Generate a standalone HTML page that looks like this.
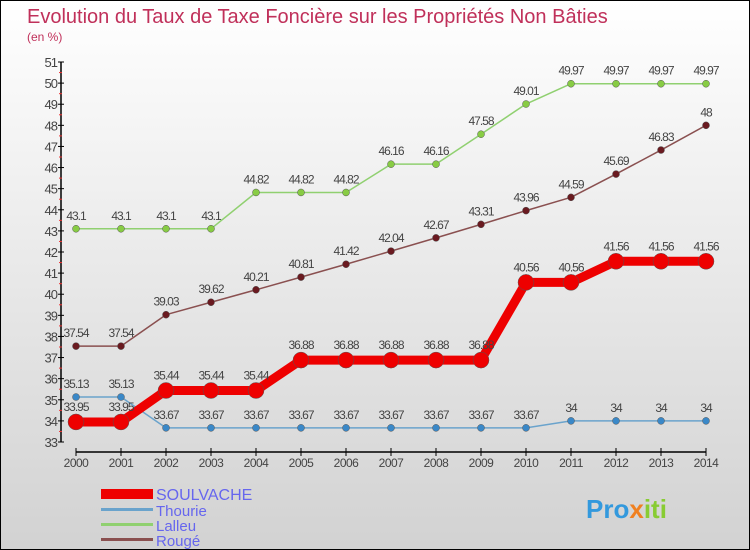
<!DOCTYPE html>
<html><head><meta charset="utf-8"><style>
body{margin:0}
#c{width:750px;height:550px;position:relative;overflow:hidden;box-sizing:border-box;border:1px solid #000;background:linear-gradient(#ffffff,#d2d2d2);font-family:"Liberation Sans",sans-serif}
svg text{font-family:"Liberation Sans",sans-serif}
</style></head><body>
<div id="c">
<svg id="s" width="750" height="550">
<text x="26" y="22" font-size="20" fill="#c0305a">Evolution du Taux de Taxe Foncière sur les Propriétés Non Bâties</text>
<text x="26" y="40" font-size="12" fill="#c0305a">(en %)</text>
<g>
<rect x="100" y="488" width="52" height="10" fill="#e00"/>
<text x="155" y="499" font-size="16" fill="#6666ee">SOULVACHE</text>
<rect x="100" y="507" width="52" height="3" fill="#6aa3cc"/>
<text x="155" y="515" font-size="15" fill="#6666ee">Thourie</text>
<rect x="100" y="522" width="52" height="3" fill="#90d070"/>
<text x="155" y="530" font-size="15" fill="#6666ee">Lalleu</text>
<rect x="100" y="537" width="52" height="3" fill="#8a5050"/>
<text x="155" y="545" font-size="15" fill="#6666ee">Rougé</text>
</g>
<text x="585" y="517" font-size="26" font-weight="bold" fill="#3399dd">Pro<tspan fill="#f08020">x</tspan><tspan fill="#88cc33">iti</tspan></text>
</svg>
</div>
<script>
const years=[2000,2001,2002,2003,2004,2005,2006,2007,2008,2009,2010,2011,2012,2013,2014];
const yTicks=[33,34,35,36,37,38,39,40,41,42,43,44,45,46,47,48,49,50,51];
const soulvache=[33.95,33.95,35.44,35.44,35.44,36.88,36.88,36.88,36.88,36.88,40.56,40.56,41.56,41.56,41.56];
const thourie=[35.13,35.13,33.67,33.67,33.67,33.67,33.67,33.67,33.67,33.67,33.67,34,34,34,34];
const lalleu=[43.1,43.1,43.1,43.1,44.82,44.82,44.82,46.16,46.16,47.58,49.01,49.97,49.97,49.97,49.97];
const rouge=[37.54,37.54,39.03,39.62,40.21,40.81,41.42,42.04,42.67,43.31,43.96,44.59,45.69,46.83,48];
const NS="http://www.w3.org/2000/svg";
const s=document.getElementById('s');
const X=i=>75+i*45;
const Y=v=>441-(v-33)*(380/18);
function mk(t,a,p){const e=document.createElementNS(NS,t);for(const k in a)e.setAttribute(k,a[k]);(p||s).appendChild(e);return e;}
// axes
const ax=mk('g',{});


mk('line',{x1:60,y1:61,x2:60,y2:441,stroke:'#000','stroke-width':1.5},ax);
mk('line',{x1:75,y1:451,x2:705,y2:451,stroke:'#000','stroke-width':1.5},ax);
yTicks.forEach(v=>{
 mk('line',{x1:57,y1:Y(v),x2:63,y2:Y(v),stroke:'#000'},ax);
 if(v<51)mk('line',{x1:58,y1:Y(v+0.5),x2:61,y2:Y(v+0.5),stroke:'#e33'},ax);
 const t=mk('text',{x:56,y:Y(v)+5,'font-size':13,fill:'#444','text-anchor':'end','letter-spacing':'-1'},ax);
 t.textContent=v;
 
 
});
years.forEach((yr,i)=>{
 mk('line',{x1:X(i),y1:447,x2:X(i),y2:455,stroke:'#000'},ax);
 const t=mk('text',{x:X(i),y:466,'font-size':12,fill:'#444','text-anchor':'middle','letter-spacing':'-0.5'},ax);
 t.textContent=yr;
 
 
});
function series(name,data,color,w,r,dot,labOff){
 const g=mk('g',{});
 
 
 mk('polyline',{points:data.map((v,i)=>X(i)+','+Y(v)).join(' '),fill:'none',stroke:color,'stroke-width':w,'stroke-linejoin':'round'},g);
 data.forEach((v,i)=>{
  const c=mk('circle',{cx:X(i),cy:Y(v),r:r,fill:dot,stroke:'#555','stroke-width':0.5},g);
  
  
  const t=mk('text',{x:X(i),y:Y(v)-labOff,'font-size':12,fill:'#444','text-anchor':'middle','letter-spacing':'-1'},g);
  t.textContent=v;
  
  
 });
}
series('lalleu',lalleu,'#90d070',1.5,3.5,'#88cc44',9);
series('rouge',rouge,'#8a5050',1.5,3.5,'#6a1a20',9);
series('thourie',thourie,'#6aa3cc',1.5,3.5,'#3a88c8',9);
series('soulvache',soulvache,'#e00',9,8,'#e00',11);
</script>
</body></html>
